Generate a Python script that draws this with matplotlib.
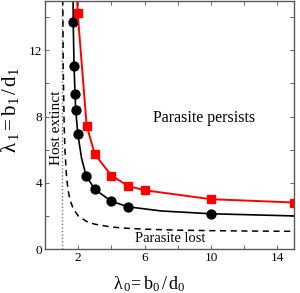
import matplotlib
matplotlib.use("Agg")
import matplotlib.pyplot as plt
from matplotlib.ticker import FixedFormatter, FixedLocator

plt.rcParams['font.family'] = ['Liberation Serif', 'DejaVu Serif']
plt.rcParams['mathtext.fontset'] = 'custom'
plt.rcParams['mathtext.rm'] = 'Liberation Serif'
plt.rcParams['mathtext.it'] = 'Liberation Serif:italic'

# black circles (simulated boundary)
black_x = [1.70, 1.75, 1.81, 1.85, 1.98, 2.48, 3.0, 4.0, 5.0, 10.0]
black_y = [13.7, 11.04, 9.34, 8.37, 6.93, 4.42, 3.6, 2.89, 2.55, 2.13]
# black curve through them
black_line_x = [1.69, 1.70, 1.75, 1.81, 1.85, 1.98, 2.2, 2.48, 3.0, 4.0, 5.0, 7.0, 10.0, 15.0]
black_line_y = [16.0, 13.7, 11.04, 9.34, 8.37, 6.93, 5.5, 4.42, 3.6, 2.89, 2.55, 2.3, 2.13, 2.0]
# red squares
red_x = [1.85, 1.97, 2.51, 3.0, 4.0, 5.0, 6.0, 10.0, 15.0]
red_y = [17.0, 14.24, 7.45, 5.72, 4.44, 3.81, 3.55, 3.01, 2.81]
# dashed "parasite lost" boundary
dash_x = [1.01, 1.03, 1.05, 1.07, 1.1, 1.15, 1.2, 1.3, 1.4, 1.5, 1.7, 2.0, 2.5, 3.0, 4.0, 5.0, 6.0, 8.0, 10.0, 12.0, 15.0]
dash_y = [101, 34.3, 21.0, 15.3, 11.0, 7.67, 6.0, 4.33, 3.5, 3.0, 2.43, 2.0, 1.67, 1.5, 1.33, 1.25, 1.2, 1.14, 1.11, 1.09, 1.07]
# host extinction line
host_x = [1.0, 1.0]
host_y = [0.0, 15.0]

xticks = [0, 2, 4, 6, 8, 10, 12, 14]
xticklabels = ['', '2', '', '6', '', '10', '', '14']
yticks = [0, 2, 4, 6, 8, 10, 12, 14]
yticklabels = ['0', '', '4', '', '8', '', '12', '']

fig = plt.figure(figsize=(3.0, 2.93), dpi=100)
ax = fig.add_axes([0.150, 0.150, 0.830, 0.848])

ax.plot(host_x, host_y, color='0.45', lw=1.0, ls=(0, (1, 1.5)))
ax.plot(dash_x, dash_y, color='black', lw=1.1, ls=(0, (4, 3)))
ax.plot(black_line_x, black_line_y, color='black', lw=1.2)
ax.plot(black_x, black_y, 'o', color='black', ms=6.4, mec='black')
ax.plot(red_x, red_y, '-s', color='#ff0000', lw=1.4, ms=5.8, mec='#ff0000')

ax.set_xlim(0, 15)
ax.set_ylim(0, 15)
ax.xaxis.set_major_locator(FixedLocator(xticks))
ax.xaxis.set_major_formatter(FixedFormatter(xticklabels))
ax.yaxis.set_major_locator(FixedLocator(yticks))
ax.yaxis.set_major_formatter(FixedFormatter(yticklabels))
ax.tick_params(direction='in', top=True, right=True, length=3, width=0.6,
               labelsize=9.5, pad=2, color='0.3')
for s in ax.spines.values():
    s.set_color('0.35')
    s.set_linewidth(1.0)

ax.text(9.6, 7.9, 'Parasite persists', fontsize=11.5, ha='center', va='center')
ax.text(7.53, 0.62, 'Parasite lost', fontsize=10.5, ha='center', va='center')
ax.text(0.72, 7.3, 'Host extinct', fontsize=11, ha='center', va='center', rotation=90)

ax.set_xlabel(r'$\mathrm{\lambda}_{\,0}\! = \mathrm{b}_{0}\, /\, \mathrm{d}_{0}$', fontsize=13)
ax.xaxis.set_label_coords(0.42, -0.10, transform=ax.transAxes)
ax.set_ylabel(r'$\mathrm{\lambda}_{\,1} = \mathrm{b}_{1}\, /\, \mathrm{d}_{1}$', fontsize=15)
ax.yaxis.set_label_coords(-0.095, 0.56, transform=ax.transAxes)

fig.savefig('out.png', dpi=100)
